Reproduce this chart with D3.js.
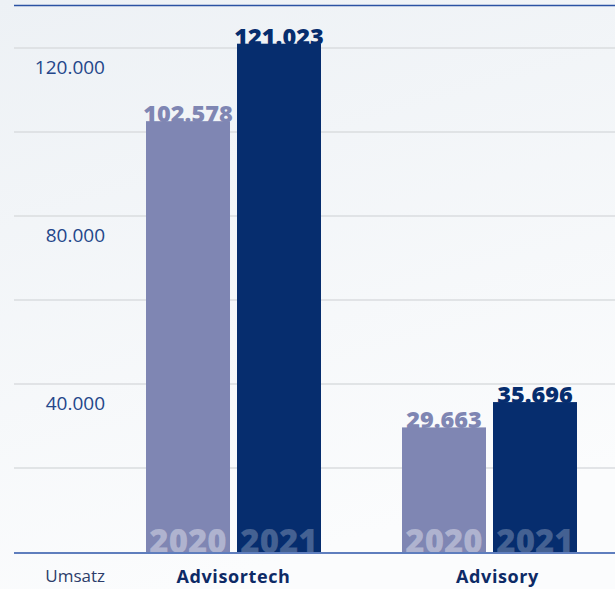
<!DOCTYPE html>
<html><head><meta charset="utf-8">
<script src="https://cdn.jsdelivr.net/npm/d3@7"></script>
<style>html,body{margin:0;padding:0;background:#fff;}svg{display:block;}</style>
</head><body>
<script>
const categories = ["Advisortech", "Advisory"];
const years = ["2020", "2021"];
const values2020 = [102578, 29663];
const values2021 = [121023, 35696];
const valueLabels2020 = ["102.578", "29.663"];
const valueLabels2021 = ["121.023", "35.696"];
const tickValues = [40000, 80000, 120000];
const tickLabels = ["40.000", "80.000", "120.000"];
const gridValues = [20000, 40000, 60000, 80000, 100000, 120000];
const axisTitle = "Umsatz";

const W = 615, H = 589;
const FONT = "'Open Sans', Lato, sans-serif";
const svg = d3.select("body").append("svg").attr("width", W).attr("height", H);
const defs = svg.append("defs");
const grad = defs.append("linearGradient").attr("id", "bg").attr("x1", 0).attr("y1", 0).attr("x2", 0.3).attr("y2", 1);
grad.append("stop").attr("offset", "0%").attr("stop-color", "#edf1f5");
grad.append("stop").attr("offset", "100%").attr("stop-color", "#fbfcfd");
svg.append("rect").attr("width", W).attr("height", H).attr("fill", "url(#bg)");

const y = d3.scaleLinear().domain([0, 130000]).range([552, 6]);
const x0 = d3.scaleBand().domain(categories).range([146, 577]).paddingInner(81 / 256).paddingOuter(0);
const x1 = d3.scaleBand().domain(years).range([0, x0.bandwidth()]).paddingInner(7 / 91).paddingOuter(0);

// gridlines
svg.append("g").selectAll("line").data(gridValues).join("line")
  .attr("x1", 14).attr("x2", W).attr("y1", d => y(d)).attr("y2", d => y(d))
  .attr("stroke", "#dadcdf").attr("stroke-width", 1.5);

// top line
svg.append("line").attr("x1", 14).attr("x2", W).attr("y1", y(130000) - 0.5).attr("y2", y(130000) - 0.5)
  .attr("stroke", "#2b52a3").attr("stroke-width", 1.5);

// tick labels
svg.append("g").selectAll("text").data(tickValues).join("text")
  .attr("x", 105).attr("y", (d) => y(d) + 26)
  .attr("text-anchor", "end").attr("font-family", FONT).attr("font-weight", 400)
  .attr("font-size", 19).attr("fill", "#24468a")
  .text((d, i) => tickLabels[i]);

const data = [];
categories.forEach((c, i) => {
  data.push({cat: c, year: "2020", v: values2020[i], label: valueLabels2020[i], color: "#7f86b3", yl: "rgba(255,255,255,0.38)"});
  data.push({cat: c, year: "2021", v: values2021[i], label: valueLabels2021[i], color: "#062d6e", yl: "rgba(255,255,255,0.25)"});
});

data.forEach((d, i) => {
  const bx = x0(d.cat) + x1(d.year), bw = x1.bandwidth();
  defs.append("clipPath").attr("id", "c" + i).append("rect")
    .attr("x", bx).attr("y", y(d.v)).attr("width", bw).attr("height", y(0) - y(d.v));
  svg.append("rect").attr("x", bx).attr("y", y(d.v)).attr("width", bw).attr("height", y(0) - y(d.v)).attr("fill", d.color);
  svg.append("text").attr("x", bx + bw / 2).attr("y", y(d.v) + 1)
    .attr("text-anchor", "middle").attr("font-family", FONT).attr("font-weight", 800)
    .attr("font-size", 23.5).attr("fill", d.color).text(d.label);
  svg.append("text").attr("clip-path", `url(#c${i})`).attr("x", bx + bw / 2).attr("y", y(0) + 1)
    .attr("text-anchor", "middle").attr("font-family", FONT).attr("font-weight", 800)
    .attr("font-size", 33).attr("fill", d.yl).text(d.year);
});

// baseline
svg.append("line").attr("x1", 14).attr("x2", W).attr("y1", y(0) + 1).attr("y2", y(0) + 1)
  .attr("stroke", "#2b55a8").attr("stroke-width", 1.5);

// category labels
svg.append("g").selectAll("text").data(categories).join("text")
  .attr("x", d => x0(d) + x0.bandwidth() / 2).attr("dx", (d, i) => i === 1 ? 8 : 0).attr("y", 583)
  .attr("text-anchor", "middle").attr("font-family", FONT).attr("font-weight", 700)
  .attr("font-size", 18).attr("letter-spacing", 0.6).attr("fill", "#0d2a66").text(d => d);

svg.append("text").attr("x", 105).attr("y", 582).attr("text-anchor", "end")
  .attr("font-family", FONT).attr("font-size", 17).attr("fill", "#2c3d6a").text(axisTitle);
</script>
</body></html>
